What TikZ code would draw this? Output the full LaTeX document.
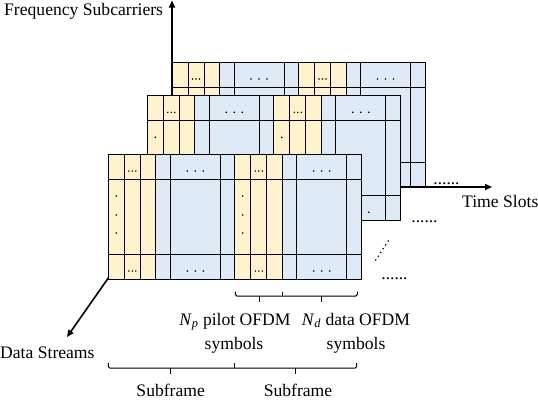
\documentclass[tikz,border=0pt]{standalone}
\usepackage{fontspec}
\setmainfont{Liberation Serif}
\usetikzlibrary{arrows.meta}
\definecolor{yel}{HTML}{FFF2CC}
\definecolor{blu}{HTML}{DEEBF7}
\tikzset{
  gridline/.style={draw=black, line width=0.9bp},
  axis/.style={line width=1.6bp, -{Triangle[length=7bp,width=6bp]}},
  bracket/.style={draw=black, line width=1bp, rounded corners=1.5bp},
  lab/.style={inner sep=0pt, font=\fontsize{17.6bp}{21bp}\selectfont},
  dotlab/.style={inner sep=0pt, font=\fontsize{17.4bp}{21bp}\selectfont},
}
\newcommand\ofdmgrid[2]{%
\begin{scope}[shift={(#1,#2)}]
  \foreach \a in {0,126.5}{
    \fill[yel] (\a,0) rectangle ++(47.5,125);
    \fill[blu] (\a+47.5,0) rectangle ++(79,125);
  }
  \foreach \c in {16,32,47.5,62,112,126.5,142.5,158.5,174,188.5,238.5}
    \draw[gridline] (\c,0) -- (\c,125);
  \draw[gridline] (0,25) -- (253,25);
  \draw[gridline] (0,100) -- (253,100);
  \draw[gridline] (0,0) rectangle (253,125);
  \foreach \a in {0,126.5}{
    \foreach \yy in {17,117}{
      \foreach \dx in {20.5,24,27.5} \fill (\a+\dx,\yy) circle[radius=0.8bp];
      \foreach \dx in {79,87,95} \fill (\a+\dx,\yy) circle[radius=0.9bp];
    }
    \foreach \yy in {42,61,79} \fill (\a+8,\yy) circle[radius=0.9bp];
  }
\end{scope}}
\begin{document}
\begin{tikzpicture}[x=1bp,y=-1bp]
\useasboundingbox (0,0) rectangle (538,400);
\coordinate (O) at (172,187);
\coordinate (F) at (172,0.5);
\coordinate (T) at (492,187);
\coordinate (D) at (67,337);
% back grid
\ofdmgrid{172}{62}
% axes
\draw[axis] (O) -- (F);
\draw[axis] (O) -- (T);
\draw[axis] (O) -- (D);
% middle and front grids
\ofdmgrid{147.3}{95.3}
\ofdmgrid{108.3}{154}
% continuation dots
\node[dotlab, anchor=base] (d1) at (446.5,184.5) {......};
\node[dotlab, anchor=base] (d2) at (424.5,222) {......};
\node[dotlab, anchor=base] (d3) at (394.5,279.5) {......};
\foreach \t in {0,...,5}
  \fill ({375.7+\t*2.5},{260-\t*3.8}) circle[radius=0.9bp];
% axis labels
\node[lab, anchor=base west] (fs) at (4,15) {Frequency Subcarriers};
\node[lab, anchor=base west] (ts) at (462,207) {Time Slots};
\node[lab, anchor=base west] (ds) at (0,358) {Data Streams};
% small brackets
\draw[bracket] (235.3,291.5) -- (235.3,296) -- (357.3,296) -- (357.3,291.5);
\draw[bracket] (282,296) -- (282,291.5);
\draw[bracket] (259,296) -- (259,302);
\draw[bracket] (321.3,296) -- (321.3,302);
% large brackets
\draw[bracket] (108.3,363) -- (108.3,368) -- (356.7,368) -- (356.7,363);
\draw[bracket] (234.6,368) -- (234.6,363);
\draw[bracket] (170.7,368) -- (170.7,374);
\draw[bracket] (295,368) -- (295,374);
% bracket labels
\node[lab, anchor=base] (np1) at (235,325) {\textit{N}\textsubscript{\textit{p}} pilot OFDM};
\node[lab, anchor=base] (np2) at (234,349) {symbols};
\node[lab, anchor=base] (nd1) at (356,325) {\textit{N}\textsubscript{\textit{d}} data OFDM};
\node[lab, anchor=base] (nd2) at (356,349) {symbols};
\node[lab, anchor=base] (sf1) at (170.7,396.5) {Subframe};
\node[lab, anchor=base] (sf2) at (298,396.5) {Subframe};
\end{tikzpicture}
\end{document}
